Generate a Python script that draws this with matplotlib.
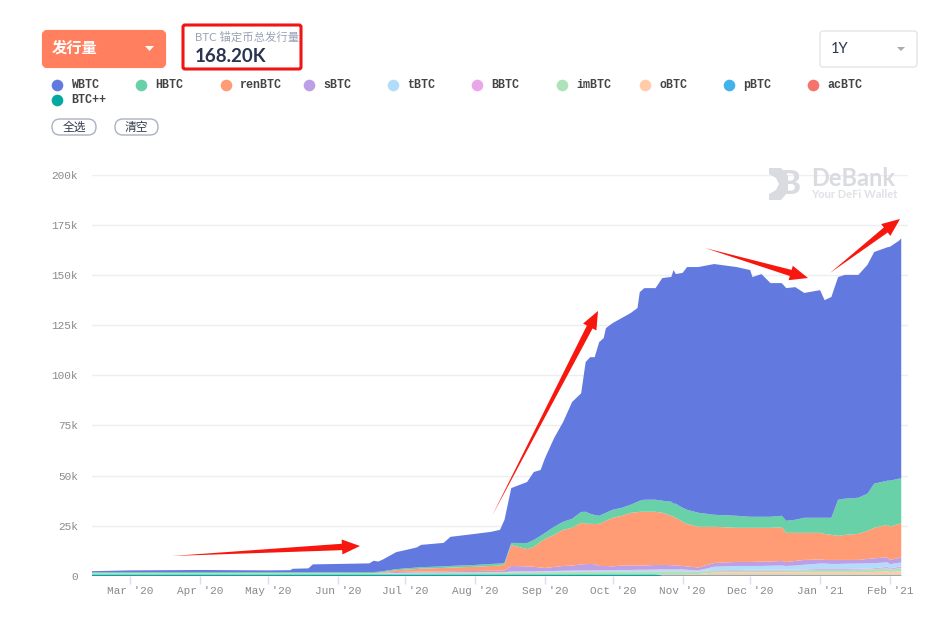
import matplotlib
matplotlib.use('Agg')
import matplotlib.pyplot as plt
import matplotlib.dates as mdates
from matplotlib.patches import FancyBboxPatch, Polygon
import numpy as np
import pandas as pd

plt.rcParams['font.family'] = ['Lato', 'Noto Sans CJK SC', 'DejaVu Sans']

names = ['WBTC', 'HBTC', 'renBTC', 'sBTC', 'tBTC', 'BBTC', 'imBTC', 'oBTC', 'pBTC', 'acBTC', 'BTC++']
colors = ['#627ADF', '#68D1A8', '#FF9C75', '#BD9FE5', '#B1DDFB', '#E9A6E9', '#AEE3B9', '#FFCBA8', '#41B2EA', '#F6736C', '#05A8A0']

dates = pd.to_datetime([
    '2020-02-13', '2020-03-01', '2020-04-01', '2020-05-01', '2020-05-11', '2020-05-12', '2020-05-19', '2020-05-21', '2020-06-01', '2020-06-15',
    '2020-06-17', '2020-06-19', '2020-06-21', '2020-06-27', '2020-07-01', '2020-07-06', '2020-07-08', '2020-07-18', '2020-07-21', '2020-08-01',
    '2020-08-08', '2020-08-12', '2020-08-14', '2020-08-17', '2020-08-24', '2020-08-27', '2020-08-30', '2020-09-01', '2020-09-05', '2020-09-09',
    '2020-09-13', '2020-09-17', '2020-09-19', '2020-09-21', '2020-09-23', '2020-09-25', '2020-09-27', '2020-09-28', '2020-10-01', '2020-10-05',
    '2020-10-09', '2020-10-12', '2020-10-13', '2020-10-15', '2020-10-20', '2020-10-23', '2020-10-27', '2020-10-28', '2020-10-29', '2020-11-01',
    '2020-11-03', '2020-11-08', '2020-11-15', '2020-11-25', '2020-12-01', '2020-12-02', '2020-12-06', '2020-12-10', '2020-12-15', '2020-12-17',
    '2020-12-21', '2020-12-25', '2021-01-01', '2021-01-03', '2021-01-06', '2021-01-09', '2021-01-12', '2021-01-18', '2021-01-22', '2021-01-25',
    '2021-01-31', '2021-02-01', '2021-02-05', '2021-02-06'])

wbtc_top = [2.4, 2.8, 3.0, 2.8, 2.9, 3.6, 3.8, 5.8, 6.0, 6.3,
            7.6, 7.2, 8.2, 11.9, 12.9, 14.2, 15.5, 16.5, 19.5, 21.0,
            22.0, 23.0, 28.0, 43.8, 46.8, 51.8, 52.8, 58.8, 68.7, 76.7,
            86.7, 91.0, 106.6, 109.0, 109.0, 116.5, 118.5, 123.5, 126.0, 128.5,
            131.0, 133.5, 141.4, 143.4, 143.4, 148.4, 149.0, 152.4, 150.4, 151.0,
            153.9, 153.9, 155.4, 153.9, 152.4, 148.9, 150.4, 145.9, 145.9, 143.4,
            143.9, 141.0, 142.4, 137.4, 139.0, 148.9, 150.0, 150.0, 155.0, 161.4,
            163.8, 164.0, 167.0, 168.2]
hbtc_top = [1.9, 1.9, 2.0, 1.9, 1.9, 1.9, 1.9, 1.9, 1.9, 2.0,
            2.0, 2.1, 2.4, 3.4, 3.8, 4.2, 4.4, 4.8, 5.0, 5.5,
            6.0, 6.2, 6.6, 16.5, 16.4, 18.0, 20.0, 21.5, 24.5, 27.0,
            28.5, 31.9, 32.0, 31.0, 30.4, 30.0, 31.0, 31.5, 33.0, 34.0,
            35.5, 37.0, 37.5, 38.0, 38.0, 37.5, 37.0, 36.0, 36.0, 34.0,
            33.0, 31.5, 30.5, 30.0, 29.5, 29.5, 29.5, 29.5, 30.0, 27.5,
            28.0, 29.0, 29.0, 29.0, 29.0, 38.0, 38.5, 39.0, 41.0, 46.0,
            47.5, 47.5, 48.5, 48.5]
ren_top = [1.35, 1.35, 1.35, 1.35, 1.35, 1.35, 1.35, 1.35, 1.35, 1.4,
           1.5, 1.6, 1.9, 2.9, 3.2, 3.5, 3.7, 4.0, 4.2, 4.6,
           5.0, 5.2, 5.8, 15.4, 13.4, 14.5, 17.0, 18.5, 20.5, 23.0,
           24.0, 26.5, 26.0, 26.0, 25.9, 26.0, 27.0, 27.5, 29.0, 30.0,
           31.5, 31.8, 32.0, 32.0, 32.0, 31.5, 30.0, 29.5, 29.0, 27.0,
           26.0, 24.5, 24.5, 24.0, 24.0, 24.0, 24.0, 24.0, 24.3, 21.5,
           21.5, 21.5, 21.5, 21.0, 20.5, 20.0, 20.5, 21.0, 22.5, 24.0,
           25.5, 24.5, 26.0, 26.0]
sbtc_top = [1.32, 1.32, 1.32, 1.32, 1.32, 1.32, 1.32, 1.32, 1.32, 1.35,
            1.4, 1.45, 1.6, 2.0, 2.1, 2.2, 2.2, 2.3, 2.4, 2.5,
            2.6, 2.6, 2.7, 5.0, 4.8, 4.6, 4.2, 4.0, 4.5, 5.0,
            5.2, 5.8, 5.9, 6.0, 5.9, 5.0, 5.0, 5.0, 4.8, 5.2,
            5.3, 5.2, 5.2, 5.2, 5.5, 5.5, 5.4, 5.3, 5.3, 5.0,
            4.8, 4.2, 6.5, 7.0, 7.0, 7.0, 7.2, 7.2, 7.5, 7.0,
            7.5, 8.0, 8.2, 8.0, 8.0, 8.0, 8.0, 8.0, 8.5, 8.8,
            9.3, 8.0, 9.0, 9.3]
tbtc_top = [1.3, 1.3, 1.3, 1.3, 1.3, 1.3, 1.3, 1.3, 1.3, 1.3,
            1.3, 1.35, 1.4, 1.5, 1.6, 1.7, 1.7, 1.7, 1.8, 1.8,
            1.9, 1.9, 1.9, 2.2, 2.3, 2.3, 2.4, 2.5, 2.5, 2.6,
            2.7, 2.8, 2.8, 2.8, 2.8, 2.9, 2.9, 2.9, 3.0, 3.0,
            3.0, 3.1, 3.1, 3.1, 3.2, 3.3, 3.3, 3.3, 3.3, 3.3,
            3.1, 2.8, 4.6, 5.0, 5.0, 5.0, 5.0, 5.1, 5.2, 5.0,
            5.2, 5.6, 6.2, 6.2, 6.0, 6.0, 6.1, 6.2, 6.3, 6.4,
            6.8, 5.9, 6.6, 6.6]
bbtc_top = [1.25, 1.25, 1.25, 1.25, 1.25, 1.25, 1.25, 1.25, 1.25, 1.25,
            1.25, 1.3, 1.3, 1.4, 1.45, 1.5, 1.5, 1.6, 1.6, 1.7,
            1.7, 1.7, 1.7, 1.9, 2.0, 2.0, 2.1, 2.1, 2.1, 2.2,
            2.2, 2.3, 2.3, 2.3, 2.3, 2.3, 2.3, 2.3, 2.4, 2.4,
            2.4, 2.4, 2.4, 2.4, 2.4, 2.4, 2.4, 2.4, 2.4, 2.4,
            2.4, 2.4, 2.9, 3.0, 3.1, 3.1, 3.1, 3.1, 3.2, 3.1,
            3.2, 3.3, 3.5, 3.5, 3.5, 3.5, 3.5, 3.6, 3.7, 3.9,
            4.6, 3.8, 4.6, 4.6]
imbtc_top = [1.2, 1.2, 1.2, 1.2, 1.2, 1.2, 1.2, 1.2, 1.2, 1.2,
             1.2, 1.2, 1.25, 1.3, 1.4, 1.4, 1.4, 1.5, 1.5, 1.6,
             1.6, 1.6, 1.6, 1.8, 1.8, 1.8, 1.9, 1.9, 1.9, 2.0,
             2.0, 2.0, 2.0, 2.0, 2.0, 2.0, 2.0, 2.0, 2.2, 2.2,
             2.2, 2.2, 2.2, 2.2, 2.2, 2.2, 2.2, 2.2, 2.2, 2.2,
             2.2, 2.2, 2.6, 2.6, 2.7, 2.7, 2.7, 2.7, 2.7, 2.7,
             2.8, 2.9, 3.0, 3.0, 3.0, 3.0, 3.0, 3.1, 3.2, 3.4,
             3.8, 3.2, 3.8, 3.8]
obtc_top = [0.85, 0.85, 0.85, 0.85, 0.85, 0.85, 0.85, 0.85, 0.85, 0.85,
            0.85, 0.85, 0.85, 0.85, 0.85, 0.85, 0.85, 0.85, 0.85, 0.85,
            0.85, 0.85, 0.85, 0.85, 0.85, 0.85, 0.85, 0.85, 0.85, 0.85,
            0.85, 0.85, 0.85, 0.85, 0.85, 0.85, 0.85, 0.85, 0.85, 0.85,
            0.85, 0.85, 0.85, 0.85, 0.9, 0.9, 0.9, 0.9, 0.9, 0.9,
            1.0, 1.0, 1.7, 1.8, 1.8, 1.8, 1.8, 1.8, 1.8, 1.8,
            1.8, 1.8, 1.9, 1.9, 1.9, 1.9, 1.9, 1.9, 1.9, 2.0,
            2.2, 2.0, 2.2, 2.2]
pbtc_top = [0.8, 0.8, 0.8, 0.8, 0.8, 0.8, 0.8, 0.8, 0.8, 0.8,
            0.8, 0.8, 0.8, 0.8, 0.8, 0.8, 0.8, 0.8, 0.8, 0.8,
            0.8, 0.8, 0.8, 0.8, 0.8, 0.8, 0.8, 0.8, 0.8, 0.8,
            0.8, 0.8, 0.8, 0.8, 0.8, 0.8, 0.8, 0.8, 0.8, 0.8,
            0.8, 0.8, 0.8, 0.8, 0.8, 0.7, 0.7, 0.7, 0.7, 0.7,
            0.7, 0.7, 0.7, 0.7, 0.7, 0.7, 0.7, 0.7, 0.7, 0.7,
            0.7, 0.7, 0.7, 0.7, 0.7, 0.7, 0.7, 0.7, 0.7, 0.7,
            0.7, 0.7, 0.7, 0.7]
acbtc_top = [0.8, 0.8, 0.8, 0.8, 0.8, 0.8, 0.8, 0.8, 0.8, 0.8,
             0.8, 0.8, 0.8, 0.8, 0.8, 0.8, 0.8, 0.8, 0.8, 0.8,
             0.8, 0.8, 0.8, 0.8, 0.8, 0.8, 0.8, 0.8, 0.8, 0.8,
             0.8, 0.8, 0.8, 0.8, 0.8, 0.8, 0.8, 0.8, 0.8, 0.8,
             0.8, 0.8, 0.8, 0.8, 0.8, 0.5, 0.5, 0.5, 0.5, 0.5,
             0.5, 0.5, 0.5, 0.5, 0.5, 0.5, 0.5, 0.5, 0.5, 0.5,
             0.5, 0.5, 0.5, 0.5, 0.5, 0.5, 0.5, 0.5, 0.5, 0.5,
             0.5, 0.5, 0.5, 0.5]
btcpp_top = [0.8, 0.8, 0.8, 0.8, 0.8, 0.8, 0.8, 0.8, 0.8, 0.8,
             0.8, 0.8, 0.8, 0.8, 0.8, 0.8, 0.8, 0.8, 0.8, 0.8,
             0.8, 0.8, 0.8, 0.8, 0.8, 0.8, 0.8, 0.8, 0.8, 0.8,
             0.8, 0.8, 0.8, 0.8, 0.8, 0.8, 0.8, 0.8, 0.8, 0.8,
             0.8, 0.8, 0.8, 0.8, 0.8, 0.3, 0.3, 0.3, 0.3, 0.3,
             0.3, 0.3, 0.3, 0.3, 0.3, 0.3, 0.3, 0.3, 0.3, 0.3,
             0.3, 0.3, 0.3, 0.3, 0.3, 0.3, 0.3, 0.3, 0.3, 0.3,
             0.3, 0.3, 0.3, 0.3]

y_ticks = [0, 25, 50, 75, 100, 125, 150, 175, 200]
y_labels = ['0', '25k', '50k', '75k', '100k', '125k', '150k', '175k', '200k']
x_ticks = pd.to_datetime(['2020-03-01', '2020-04-01', '2020-05-01', '2020-06-01', '2020-07-01', '2020-08-01',
                          '2020-09-01', '2020-10-01', '2020-11-01', '2020-12-01', '2021-01-01', '2021-02-01'])
x_labels = ["Mar '20", "Apr '20", "May '20", "Jun '20", "Jul '20", "Aug '20",
            "Sep '20", "Oct '20", "Nov '20", "Dec '20", "Jan '21", "Feb '21"]

W, H = 944, 619
fig = plt.figure(figsize=(W / 100, H / 100), dpi=100, facecolor='white')

# chart area, pixel box from the picture
ax = fig.add_axes([92 / W, 1 - 576 / H, (908 - 92) / W, (576 - 174.5) / H])
tops = np.array([btcpp_top, acbtc_top, pbtc_top, obtc_top, imbtc_top, bbtc_top,
                 tbtc_top, sbtc_top, ren_top, hbtc_top, wbtc_top])
bands = np.diff(np.vstack([np.zeros(len(dates)), tops]), axis=0)
ax.stackplot(dates, bands, colors=colors[::-1], linewidth=0, zorder=2)
ax.set_xlim(pd.Timestamp('2020-02-13'), pd.Timestamp('2021-02-09'))
ax.set_ylim(0, 200)
ax.set_yticks(y_ticks)
ax.set_yticklabels(y_labels, family='Liberation Mono', fontsize=8, color='#8a8a8a')
ax.set_xticks(mdates.date2num(x_ticks))
ax.set_xticklabels(x_labels, family='Liberation Mono', fontsize=8, color='#8a8a8a')
ax.tick_params(axis='y', length=0, pad=10)
ax.tick_params(axis='x', length=5.5, width=1, color='#d6e0f0', pad=1.5)
ax.grid(axis='y', color='#eceef2', linewidth=1, zorder=0)
ax.set_axisbelow(True)
for s in ax.spines.values():
    s.set_visible(False)

# page furniture on top, in pixel coordinates
ui = fig.add_axes([0, 0, 1, 1], facecolor='none')
ui.set_xlim(0, W)
ui.set_ylim(H, 0)
ui.axis('off')

ui.add_patch(FancyBboxPatch((44, 32), 120, 34, boxstyle='round,pad=0,rounding_size=3',
                            fc='#FF7F5F', ec='#FF7F5F', lw=3))
ui.text(52, 48, '发行量', color='white', fontsize=11, fontweight='bold', va='center', family='Noto Sans CJK SC')
ui.add_patch(Polygon([[145, 46], [154, 46], [149.5, 51]], fc='white', ec='none'))

ui.add_patch(FancyBboxPatch((183, 25), 118, 44, boxstyle='round,pad=0,rounding_size=2', fc='none', ec='#F01414', lw=2.2))
ui.text(195, 37, 'BTC 锚定币总发行量', color='#9aa3b5', fontsize=8.2, va='center')
ui.text(195, 56, '168.20K', color='#2a3350', fontsize=13.5, va='center', family='Lato', fontweight='bold')

ui.add_patch(FancyBboxPatch((820, 31), 97, 36, boxstyle='round,pad=0,rounding_size=3', fc='white', ec='#e3e5ea', lw=1))
ui.text(831, 49, '1Y', color='#2a3350', fontsize=10.5, va='center')
ui.add_patch(Polygon([[897, 47], [905, 47], [901, 51]], fc='#a5a9b8', ec='none'))

legend_x = [57, 141, 226, 309, 393, 477, 562, 645, 729, 813, 57]
legend_y = [85] * 10 + [100]
for name, c, lx, ly in zip(names, colors, legend_x, legend_y):
    ui.scatter([lx], [ly], s=70, color=c, linewidths=0)
    ui.text(lx + 14, ly, name, family='Liberation Mono', fontsize=8.4, fontweight='bold', color='#444444', va='center')

for label, x0, x1 in [('全选', 52, 96), ('清空', 115, 158)]:
    ui.add_patch(FancyBboxPatch((x0, 119), x1 - x0, 16, boxstyle='round,pad=0,rounding_size=8', fc='white', ec='#aab2c2', lw=1))
    ui.text((x0 + x1) / 2, 127, label, color='#333a4a', fontsize=8.5, ha='center', va='center', family='Noto Sans CJK SC')

# watermark
ui.add_patch(Polygon([[769, 168], [781, 168], [788, 176], [788, 192], [781, 200], [769, 200], [769, 194],
                      [776, 190], [779, 184], [776, 178], [769, 174]], fc='#d9dbe0', ec='none'))
ui.text(790, 184, 'B', color='#d9dbe0', fontsize=24, fontweight='black', ha='center', va='center', family='Lato')
ui.text(811, 178, 'DeBank', color='#d9dbe0', fontsize=17, fontweight='bold', va='center', family='Lato')
ui.text(811, 194, 'Your DeFi Wallet', color='#dfe1e5', fontsize=8, fontweight='bold', va='center', family='Lato')


def red_arrow(x0, y0, x1, y1, neck=3.2, head=7.5, head_len=18):
    # thin at the tail, widens up to the barbs
    d = np.array([x1 - x0, y1 - y0], dtype=float)
    L = np.hypot(*d)
    u = d / L
    n = np.array([-u[1], u[0]])
    tip = np.array([x1, y1], dtype=float)
    tail = np.array([x0, y0], dtype=float)
    base = tip - u * head_len
    pts = [tail, base + n * neck, base + n * head, tip, base - n * head, base - n * neck]
    ui.add_patch(Polygon(pts, fc='#F8170F', ec='none', zorder=6))


red_arrow(172, 556, 360, 546)
red_arrow(492, 516, 598, 311)
red_arrow(705, 248, 808, 278)
red_arrow(830, 273, 900, 219)

fig.savefig('out.png', dpi=100)
